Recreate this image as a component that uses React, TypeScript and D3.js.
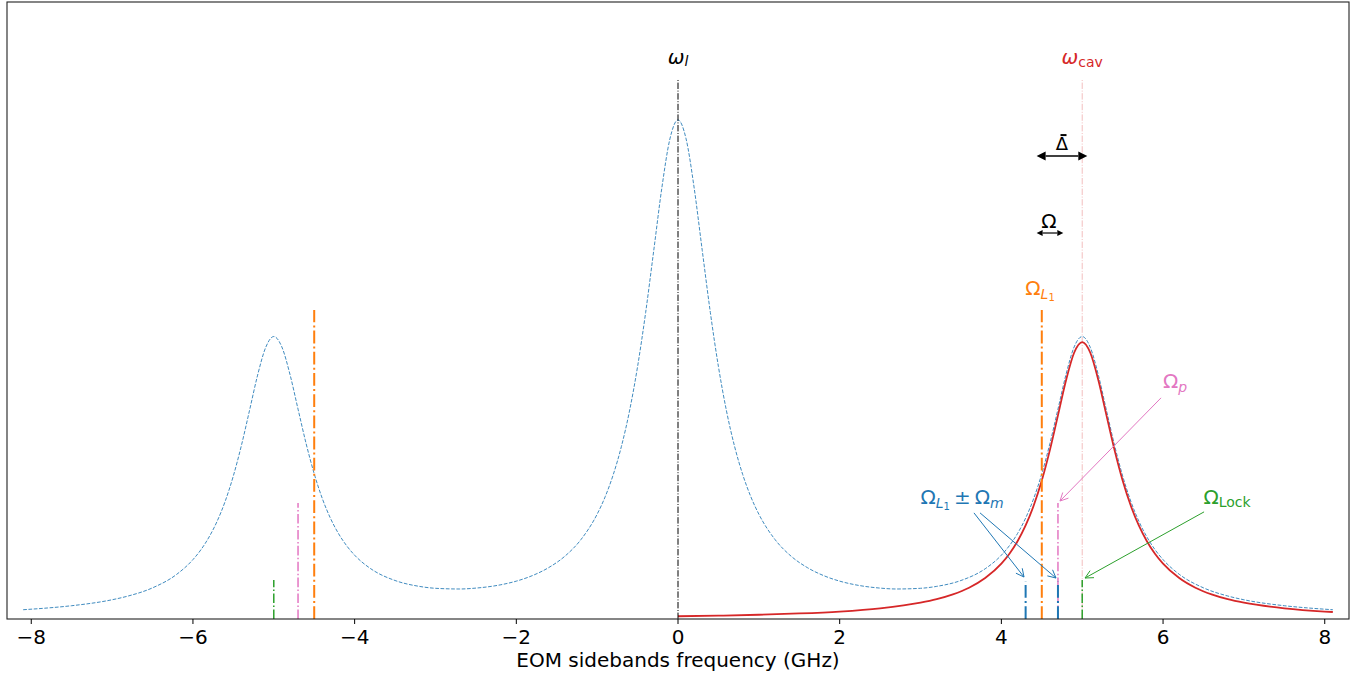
import React from 'react';
import * as d3 from 'd3';

// ---------- data ----------
const spectrumFreq = [
  -8.1, -7.8, -7.5, -7, -6.8, -6.5, -6.2, -6, -5.9, -5.8, -5.7, -5.6, -5.5, -5.4, -5.3, -5.2, -5.1, -5,
  -4.9, -4.8, -4.7, -4.6, -4.5, -4.4, -4.3, -4.2, -4.1, -4, -3.8, -3.5, -3.2, -3, -2.7, -2.5, -2.2, -2,
  -1.8, -1.6, -1.4, -1.2, -1, -0.9, -0.8, -0.7, -0.6, -0.5, -0.4, -0.3, -0.2, -0.1, 0,
  0.1, 0.2, 0.3, 0.4, 0.5, 0.6, 0.7, 0.8, 0.9, 1, 1.2, 1.4, 1.6, 1.8, 2, 2.2, 2.5, 2.7, 3, 3.2, 3.5,
  3.8, 4, 4.1, 4.2, 4.3, 4.4, 4.5, 4.6, 4.7, 4.8, 4.9, 5, 5.1, 5.2, 5.3, 5.4, 5.5, 5.6, 5.7, 5.8, 5.9,
  6, 6.2, 6.5, 6.8, 7, 7.5, 7.8, 8.1,
];
const spectrumPower = [
  0.0188, 0.0223, 0.0269, 0.039, 0.0466, 0.0631, 0.0906, 0.1203, 0.1406, 0.1662, 0.1983, 0.239, 0.29,
  0.3519, 0.4226, 0.4941, 0.5502, 0.5723, 0.5511, 0.4957, 0.4252, 0.3553, 0.2943, 0.2442, 0.2044, 0.1732,
  0.1487, 0.1293, 0.1018, 0.078, 0.0661, 0.0622, 0.0608, 0.0626, 0.0691, 0.0767, 0.088, 0.1041, 0.1271,
  0.161, 0.2124, 0.248, 0.2929, 0.3496, 0.4213, 0.5114, 0.6211, 0.7465, 0.8732, 0.9727, 1.0111,
  0.9727, 0.8732, 0.7465, 0.6211, 0.5114, 0.4213, 0.3496, 0.2929, 0.248, 0.2124, 0.161, 0.1271, 0.1041,
  0.088, 0.0767, 0.0691, 0.0626, 0.0608, 0.0622, 0.0661, 0.078, 0.1018, 0.1293, 0.1487, 0.1732, 0.2044,
  0.2442, 0.2943, 0.3553, 0.4252, 0.4957, 0.5511, 0.5723, 0.5502, 0.4941, 0.4226, 0.3519, 0.29, 0.239,
  0.1983, 0.1662, 0.1406, 0.1203, 0.0906, 0.0631, 0.0466, 0.039, 0.0269, 0.0223, 0.0188,
];

const cavityFreq = [
  0, 0.5, 1, 1.5, 2, 2.5, 3, 3.2, 3.4, 3.6, 3.8, 4, 4.1, 4.2, 4.3, 4.4, 4.5, 4.6, 4.7, 4.8, 4.9, 5,
  5.1, 5.2, 5.3, 5.4, 5.5, 5.6, 5.7, 5.8, 5.9, 6, 6.2, 6.4, 6.6, 6.8, 7, 7.5, 8, 8.1,
];
const cavityPower = [
  0.0056, 0.0068, 0.0086, 0.0112, 0.0151, 0.0216, 0.033, 0.0402, 0.0499, 0.0634, 0.083, 0.1122, 0.1323,
  0.1576, 0.1895, 0.2299, 0.2805, 0.3421, 0.4125, 0.4836, 0.5394, 0.561, 0.5394, 0.4836, 0.4125, 0.3421,
  0.2805, 0.2299, 0.1895, 0.1576, 0.1323, 0.1122, 0.083, 0.0634, 0.0499, 0.0402, 0.033, 0.0216, 0.0151,
  0.0142,
];

// vertical marker lines (frequency, top value)
const laserFreq = [0];
const laserTop = [1.092];
const cavLineFreq = [5];
const cavLineTop = [1.092];
const l1Freq = [-4.5, 4.5];
const l1Top = [0.626, 0.626];
const probeFreq = [-4.7, 4.7];
const probeTop = [0.235, 0.235];
const lockFreq = [-5, 5];
const lockTop = [0.079, 0.079];
const sidebandFreq = [4.3, 4.7];
const sidebandTop = [0.076, 0.076];

const xTicks = [-8, -6, -4, -2, 0, 2, 4, 6, 8];
const xTickLabels = ['\u22128', '\u22126', '\u22124', '\u22122', '0', '2', '4', '6', '8'];
const xLabel = 'EOM sidebands frequency (GHz)';

// annotation arrows: [x1, y1, x2, y2] in data units (tip at x2,y2)
const probeArrow = [5.975, 0.448, 4.725, 0.239];
const lockArrow = [6.507, 0.217, 5.035, 0.083];
const sbArrowA = [3.661, 0.215, 4.28, 0.085];
const sbArrowB = [3.736, 0.215, 4.676, 0.083];
const deltaArrow = [4.436, 0.938, 5.063, 0.938];
const omegaArrow = [4.436, 0.782, 4.766, 0.782];

const C = {
  blue: '#1f77b4',
  orange: '#ff7f0e',
  green: '#2ca02c',
  red: '#d62728',
  pink: '#e377c2',
};
const FONT = "'DejaVu Sans', sans-serif";

const x = d3.scaleLinear().domain([-8.3, 8.3]).range([7, 1349]);
const y = d3.scaleLinear().domain([0, 1.25]).range([619, 2]);

function dashDot(lw: number) {
  return [6.4 * lw, 1.6 * lw, 1 * lw, 1.6 * lw].join(',');
}

function headPts(x1: number, y1: number, x2: number, y2: number, len: number, hw: number) {
  const a = Math.atan2(y2 - y1, x2 - x1);
  const bx = x2 - len * Math.cos(a);
  const by = y2 - len * Math.sin(a);
  const px = -Math.sin(a) * hw;
  const py = Math.cos(a) * hw;
  return { tip: [x2, y2], l: [bx + px, by + py], r: [bx - px, by - py], base: [bx, by] };
}

function OpenArrow({ d, color }: { d: number[]; color: string }) {
  const x1 = x(d[0]), y1 = y(d[1]), x2 = x(d[2]), y2 = y(d[3]);
  const h = headPts(x1, y1, x2, y2, 8, 4);
  return (
    <g stroke={color} strokeWidth={1} fill="none">
      <line x1={x1} y1={y1} x2={x2} y2={y2} />
      <path d={`M${h.l[0]},${h.l[1]}L${h.tip[0]},${h.tip[1]}L${h.r[0]},${h.r[1]}`} />
    </g>
  );
}

function DoubleArrow({ d, len, hw, lw }: { d: number[]; len: number; hw: number; lw: number }) {
  const x1 = x(d[0]), y1 = y(d[1]), x2 = x(d[2]), y2 = y(d[3]);
  const a = headPts(x1, y1, x2, y2, len, hw);
  const b = headPts(x2, y2, x1, y1, len, hw);
  return (
    <g>
      <line x1={b.base[0]} y1={b.base[1]} x2={a.base[0]} y2={a.base[1]} stroke="#000" strokeWidth={lw} />
      <polygon points={`${a.tip.join(',')} ${a.l.join(',')} ${a.r.join(',')}`} fill="#000" />
      <polygon points={`${b.tip.join(',')} ${b.l.join(',')} ${b.r.join(',')}`} fill="#000" />
    </g>
  );
}

function Markers({ freq, top, color, lw, opacity = 1 }: { freq: number[]; top: number[]; color: string; lw: number; opacity?: number }) {
  return (
    <g stroke={color} strokeWidth={lw} strokeOpacity={opacity} strokeDasharray={dashDot(lw)}>
      {freq.map((f, i) => (
        <line key={i} x1={x(f)} x2={x(f)} y1={y(0)} y2={y(top[i])} />
      ))}
    </g>
  );
}

export default function App() {
  const line = d3
    .line<number>()
    .x((_, i) => x(spectrumFreq[i]))
    .y((v) => y(v))
    .curve(d3.curveMonotoneX);
  const cavLine = d3
    .line<number>()
    .x((_, i) => x(cavityFreq[i]))
    .y((v) => y(v))
    .curve(d3.curveMonotoneX);

  const dx = x(4.75);
  const dy = y(0.95);

  return (
    <div style={{ position: 'absolute', left: 0, top: 0 }}>
      <svg width={1364} height={673} style={{ display: 'block', background: '#fff' }} fontFamily={FONT}>
        <path d={line(spectrumPower) || ''} fill="none" stroke={C.blue} strokeOpacity={0.85} strokeWidth={1} strokeDasharray="3.7,1.6" />
        <path d={cavLine(cavityPower) || ''} fill="none" stroke={C.red} strokeWidth={1.8} />

        <Markers freq={laserFreq} top={laserTop} color="#000" lw={1} />
        <Markers freq={cavLineFreq} top={cavLineTop} color={C.red} lw={1} opacity={0.3} />
        <Markers freq={l1Freq} top={l1Top} color={C.orange} lw={2} />
        <Markers freq={probeFreq} top={probeTop} color={C.pink} lw={1.5} />
        <Markers freq={lockFreq} top={lockTop} color={C.green} lw={1.5} />
        <Markers freq={sidebandFreq} top={sidebandTop} color={C.blue} lw={2} />

        <DoubleArrow d={deltaArrow} len={9} hw={4.5} lw={1.5} />
        <DoubleArrow d={omegaArrow} len={6} hw={3} lw={1.2} />

        <OpenArrow d={probeArrow} color={C.pink} />
        <OpenArrow d={lockArrow} color={C.green} />
        <OpenArrow d={sbArrowA} color={C.blue} />
        <OpenArrow d={sbArrowB} color={C.blue} />

        {/* labels */}
        <text x={x(0)} y={y(1.124)} textAnchor="middle" fontSize={20}>
          <tspan fontStyle="italic">ω</tspan>
          <tspan fontStyle="italic" fontSize={14} dy={2}>l</tspan>
        </text>
        <text x={x(5)} y={y(1.124)} textAnchor="middle" fontSize={20} fill={C.red}>
          <tspan fontStyle="italic">ω</tspan>
          <tspan fontSize={14} dy={2.5}>cav</tspan>
        </text>
        <text x={dx} y={dy} textAnchor="middle" fontSize={18}>
          Δ
        </text>
        <rect x={dx - 1.5} y={dy - 16} width={6} height={2} fill="#000" />
        <text x={x(4.589)} y={y(0.792)} textAnchor="middle" fontSize={20}>
          Ω
        </text>
        <text x={x(4.478)} y={y(0.656)} textAnchor="middle" fontSize={20} fill={C.orange}>
          <tspan>Ω</tspan>
          <tspan fontStyle="italic" fontSize={14} dy={4}>L</tspan>
          <tspan fontSize={10} dy={2}>1</tspan>
        </text>
        <text x={x(6.148)} y={y(0.468)} textAnchor="middle" fontSize={20} fill={C.pink}>
          <tspan>Ω</tspan>
          <tspan fontStyle="italic" fontSize={14} dy={4}>p</tspan>
        </text>
        <text x={x(6.791)} y={y(0.233)} textAnchor="middle" fontSize={20} fill={C.green}>
          <tspan>Ω</tspan>
          <tspan fontSize={14} dy={3}>Lock</tspan>
        </text>
        <text x={x(3.513)} y={y(0.233)} textAnchor="middle" fontSize={20} fill={C.blue}>
          <tspan>Ω</tspan>
          <tspan fontStyle="italic" fontSize={14} dy={4}>L</tspan>
          <tspan fontSize={10} dy={2}>1</tspan>
          <tspan dy={-6}>{'\u2009±\u2009Ω'}</tspan>
          <tspan fontStyle="italic" fontSize={14} dy={4}>m</tspan>
        </text>

        {/* frame */}
        <rect x={7} y={2} width={1342} height={617} fill="none" stroke="#222" strokeWidth={1.1} />

        {/* x axis */}
        <g>
          {xTicks.map((t, i) => (
            <g key={t}>
              <line x1={x(t)} x2={x(t)} y1={619} y2={624} stroke="#000" strokeWidth={1} />
              <text x={x(t)} y={643.5} textAnchor="middle" fontSize={20}>
                {xTickLabels[i]}
              </text>
            </g>
          ))}
          <text x={x(0)} y={667} textAnchor="middle" fontSize={20}>
            {xLabel}
          </text>
        </g>
      </svg>
    </div>
  );
}
